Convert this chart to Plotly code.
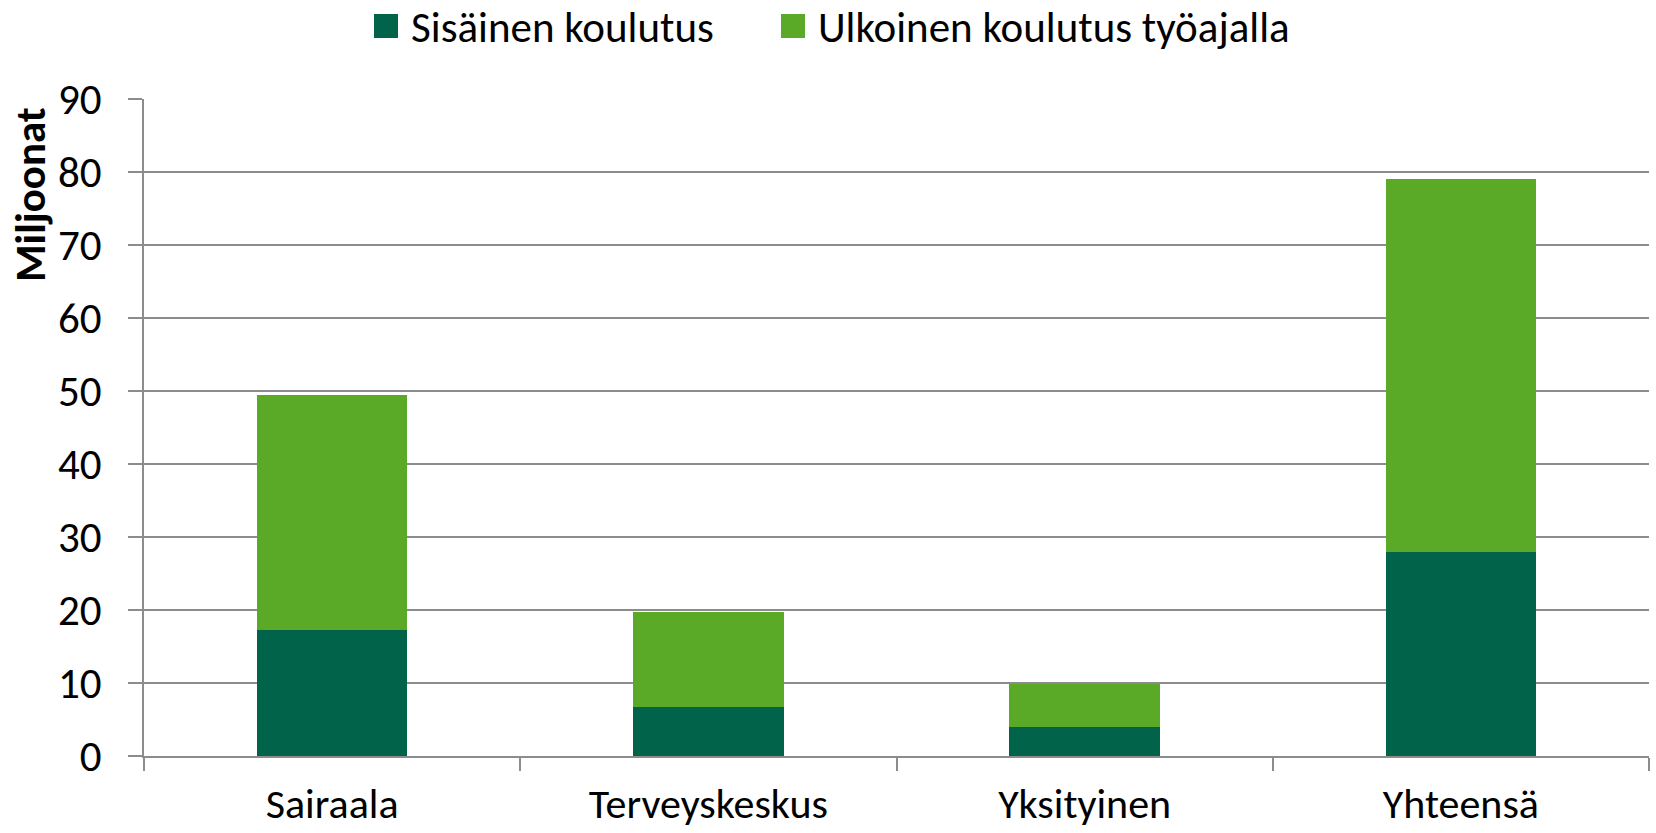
import plotly.graph_objects as go

categories = ["Sairaala", "Terveyskeskus", "Yksityinen", "Yhteensä"]
sisainen = [17.3, 6.7, 4.0, 28.0]
ulkoinen = [32.1, 13.0, 5.9, 51.1]
series_names = ["Sisäinen koulutus", "Ulkoinen koulutus työajalla"]
y_ticks = [0, 10, 20, 30, 40, 50, 60, 70, 80, 90]

DARK = "#00634A"
LIGHT = "#5AAA28"
GRID = "#8C8C8C"
FONT = "Carlito, Lato, sans-serif"

W, H = 1656, 833
ML, MR, MT, MB = 144, 7, 99, 77
PW, PH = W - ML - MR, H - MT - MB

def px_x(x):
    return (x - ML) / PW

def px_y(y):
    return (H - MB - y) / PH

fig = go.Figure()
fig.add_trace(go.Bar(x=categories, y=sisainen, name=series_names[0],
                     marker=dict(color=DARK, line=dict(width=0)), showlegend=False))
fig.add_trace(go.Bar(x=categories, y=ulkoinen, name=series_names[1],
                     marker=dict(color=LIGHT, line=dict(width=0)), showlegend=False))

# Legend drawn manually (large squares)
legend_items = [
    (374, 398, 409, series_names[0], DARK),
    (781, 805, 816, series_names[1], LIGHT),
]
shapes = []
annotations = []
for x0, x1, tx, name, col in legend_items:
    shapes.append(dict(type="rect", xref="paper", yref="paper",
                       x0=px_x(x0), x1=px_x(x1), y0=px_y(38), y1=px_y(14),
                       fillcolor=col, line=dict(width=0)))
    annotations.append(dict(xref="paper", yref="paper", x=px_x(tx), y=px_y(27),
                            xanchor="left", yanchor="middle", showarrow=False,
                            text=name, font=dict(family=FONT, size=43, color="black")))

annotations.append(dict(xref="paper", yref="paper", x=px_x(30), y=px_y(194),
                        xanchor="center", yanchor="middle", showarrow=False,
                        textangle=-90, text="<b>Miljoonat</b>",
                        font=dict(family=FONT, size=43, color="black")))

fig.update_layout(
    width=W, height=H,
    barmode="stack", bargap=0.6,
    plot_bgcolor="white", paper_bgcolor="white",
    margin=dict(l=ML, r=MR, t=MT, b=MB, autoexpand=False),
    font=dict(family=FONT, size=43, color="black"),
    shapes=shapes, annotations=annotations,
    showlegend=False,
)
fig.update_xaxes(
    type="category", showline=True, linecolor=GRID, linewidth=1.5,
    ticks="outside", tickson="boundaries", ticklen=13, tickcolor=GRID, tickwidth=1.5,
    showgrid=False, tickfont=dict(family=FONT, size=42, color="black"),
    ticklabelstandoff=10, automargin=False,
)
fig.update_yaxes(
    range=[0, 90], tickvals=y_ticks, showline=True, linecolor=GRID, linewidth=1.5,
    ticks="outside", ticklen=14, tickcolor=GRID, tickwidth=1.5,
    showgrid=True, gridcolor=GRID, gridwidth=1.5, zeroline=False,
    tickfont=dict(family=FONT, size=43, color="black"),
    ticklabelstandoff=18, automargin=False,
)

fig.write_html("out.html", config={"displayModeBar": False})

with open("out.html", "r", encoding="utf-8") as f:
    html = f.read()
html = html.replace("<body>", '<body style="margin:0;overflow:hidden">', 1)
with open("out.html", "w", encoding="utf-8") as f:
    f.write(html)
